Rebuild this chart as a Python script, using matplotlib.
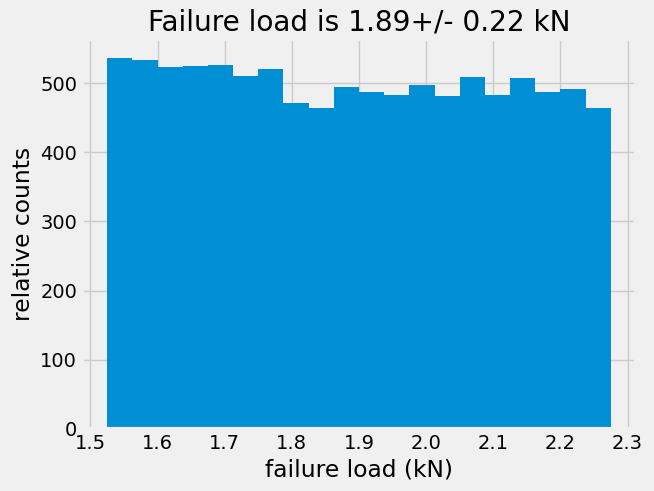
import matplotlib
matplotlib.use('Agg')
import matplotlib.pyplot as plt
import numpy as np

plt.style.use('fivethirtyeight')

# Histogram of failure loads (kN): 20 equal bins between these limits
load_min = 1.525
load_max = 2.275
counts = [537, 534, 523, 525, 526, 510, 520, 472, 464, 494,
          487, 483, 497, 481, 509, 483, 507, 487, 491, 464]
edges = np.linspace(load_min, load_max, len(counts) + 1)
centers = (edges[:-1] + edges[1:]) / 2

fig = plt.figure(figsize=(6.54, 4.91), dpi=100)
ax = fig.add_axes([0.1254, 0.1263, 0.8471, 0.7943])

ax.hist(centers, bins=edges, weights=counts)

ax.set_xlabel('failure load (kN)')
ax.set_ylabel('relative counts')
ax.set_title('Failure load is 1.89+/- 0.22 kN')

fig.savefig('out.png', dpi=100)
